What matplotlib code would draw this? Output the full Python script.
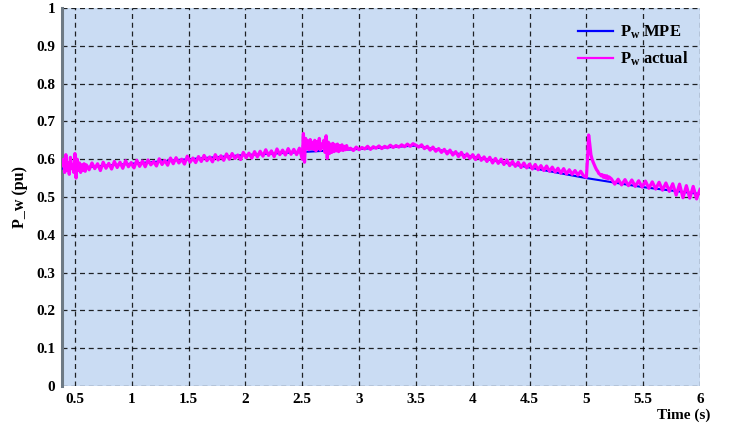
"""
Wind power tracking plot: MPE reference vs measured P_w over time.
"""

import numpy as np
import matplotlib
matplotlib.use("Agg")
import matplotlib.pyplot as plt

plt.rcParams["font.family"] = ["Liberation Serif", "DejaVu Serif"]
plt.rcParams["font.weight"] = "bold"
plt.rcParams["mathtext.fontset"] = "custom"
plt.rcParams["mathtext.rm"] = "Liberation Serif:bold"
plt.rcParams["mathtext.it"] = "Liberation Serif:bold"
plt.rcParams["mathtext.bf"] = "Liberation Serif:bold"

# --- data ------------------------------------------------------------------
mpe_t = [0.39, 0.5, 1.0, 1.5, 2.0, 2.5, 3.0, 3.5, 4.0, 4.5, 5.0, 5.5, 6.0]
mpe_p = [0.575, 0.577, 0.588, 0.600, 0.611, 0.619, 0.627, 0.636,
         0.607, 0.578, 0.550, 0.526, 0.508]

# measured power, split into segments (start, end, samples)
seg_start = (0.39, 0.60,
             [0.585, 0.600, 0.565, 0.612, 0.570, 0.590, 0.560, 0.605, 0.575, 0.585, 0.565,
              0.615, 0.550, 0.600, 0.570, 0.590, 0.565, 0.585, 0.570, 0.588, 0.568, 0.585])
seg_rise = (0.625, 2.475,
            [0.572, 0.590, 0.575, 0.588, 0.570, 0.592, 0.576, 0.589, 0.574, 0.594,
             0.578, 0.592, 0.576, 0.596, 0.580, 0.591, 0.577, 0.597, 0.581, 0.595,
             0.580, 0.598, 0.585, 0.594, 0.582, 0.601, 0.586, 0.597, 0.584, 0.603,
             0.588, 0.604, 0.590, 0.600, 0.587, 0.608, 0.592, 0.603, 0.591, 0.607,
             0.594, 0.610, 0.596, 0.606, 0.593, 0.612, 0.598, 0.609, 0.597, 0.614,
             0.600, 0.615, 0.602, 0.611, 0.599, 0.618, 0.604, 0.616, 0.603, 0.620,
             0.606, 0.621, 0.608, 0.625, 0.610, 0.622, 0.607, 0.627, 0.612, 0.624,
             0.611, 0.628, 0.613, 0.626, 0.612, 0.629])
seg_dist = (2.50, 2.90,
            [0.600, 0.668, 0.592, 0.655, 0.630, 0.648, 0.625, 0.652, 0.628, 0.645,
             0.626, 0.650, 0.622, 0.646, 0.628, 0.655, 0.624, 0.640, 0.630, 0.650,
             0.618, 0.662, 0.602, 0.645, 0.615, 0.640, 0.618, 0.642, 0.620, 0.638,
             0.622, 0.640, 0.620, 0.636, 0.624, 0.638, 0.623, 0.634, 0.625, 0.636,
             0.626])
seg_flat = (2.925, 3.50,
            [0.629, 0.623, 0.632, 0.625, 0.631, 0.627, 0.634, 0.626, 0.633, 0.629,
             0.635, 0.628, 0.634, 0.630, 0.637, 0.631, 0.636, 0.632, 0.638, 0.633,
             0.640, 0.634, 0.641, 0.637])
seg_fall = (3.525, 5.0,
            [0.632, 0.638, 0.628, 0.634, 0.624, 0.632, 0.621, 0.628, 0.618, 0.626,
             0.614, 0.624, 0.611, 0.620, 0.607, 0.618, 0.604, 0.614, 0.602, 0.612,
             0.599, 0.611, 0.597, 0.606, 0.594, 0.605, 0.590, 0.602, 0.589, 0.600,
             0.586, 0.598, 0.583, 0.594, 0.581, 0.592, 0.578, 0.590, 0.577, 0.587,
             0.574, 0.586, 0.572, 0.583, 0.570, 0.582, 0.568, 0.579, 0.566, 0.576,
             0.563, 0.575, 0.561, 0.572, 0.560, 0.570, 0.558, 0.568, 0.556, 0.552])
seg_spike = (5.01, 5.20,
             [0.600, 0.664, 0.640, 0.612, 0.600, 0.592, 0.585, 0.578, 0.572, 0.568,
              0.562, 0.560, 0.556, 0.559, 0.552, 0.557, 0.550, 0.556, 0.548, 0.553])
seg_tail = (5.22, 6.0,
            [0.548, 0.534, 0.547, 0.532, 0.546, 0.530, 0.545, 0.528, 0.543, 0.526,
             0.542, 0.523, 0.540, 0.521, 0.539, 0.518, 0.537, 0.515, 0.535, 0.505,
             0.534, 0.498, 0.530, 0.497, 0.528, 0.495, 0.520])

segments = [seg_start, seg_rise, seg_dist, seg_flat, seg_fall, seg_spike, seg_tail]

x_ticks = [0.5, 1, 1.5, 2, 2.5, 3, 3.5, 4, 4.5, 5, 5.5, 6]
x_labels = ["0.5", "1", "1.5", "2", "2.5", "3", "3.5", "4", "4.5", "5", "5.5", "6"]
y_ticks = [0, 0.1, 0.2, 0.3, 0.4, 0.5, 0.6, 0.7, 0.8, 0.9, 1]
y_labels = ["0", "0.1", "0.2", "0.3", "0.4", "0.5", "0.6", "0.7", "0.8", "0.9", "1"]

act_t = np.concatenate([np.linspace(a, b, len(v)) for a, b, v in segments])
act_p = np.concatenate([np.asarray(v) for _, _, v in segments])

# --- figure -----------------------------------------------------------------
fig = plt.figure(figsize=(7.32, 4.29), dpi=100)
ax = fig.add_axes([0.0847, 0.1002, 0.8716, 0.8812])
ax.set_facecolor("#cadcf3")

ax.plot(mpe_t, mpe_p, color="#0000ff", linewidth=1.5, label=r"P$_{\rm w}$ MPE", zorder=3)
ax.plot(act_t, act_p, color="#ff00ff", linewidth=2.3, label=r"P$_{\rm w}$ actual", zorder=4)

ax.set_xlim(0.386, 6.0)
ax.set_ylim(0, 1)
ax.set_xticks(x_ticks)
ax.set_xticklabels(x_labels)
ax.set_yticks(y_ticks)
ax.set_yticklabels(y_labels)
ax.tick_params(length=0, labelsize=11, pad=5)

ax.grid(True, color="black", linestyle=(0, (4, 3)), linewidth=0.9, alpha=0.85)
ax.set_axisbelow(True)
for side in ("top", "right", "bottom"):
    ax.spines[side].set_visible(False)
ax.spines["left"].set_color("#6e7a84")
ax.spines["left"].set_linewidth(2.2)

ax.set_ylabel("P_w (pu)", fontsize=11.5, fontweight="bold", labelpad=6)
fig.text(0.970, 0.048, "Time (s)", ha="right", va="top", fontsize=11, fontweight="bold")

leg = ax.legend(loc="upper right", frameon=False, fontsize=12, handlelength=2.1,
                handletextpad=0.4, borderaxespad=0.3, bbox_to_anchor=(1.0, 0.99),
                labelspacing=0.55)
for line in leg.get_lines():
    line.set_linewidth(1.6)

fig.savefig("out.png", dpi=100)
